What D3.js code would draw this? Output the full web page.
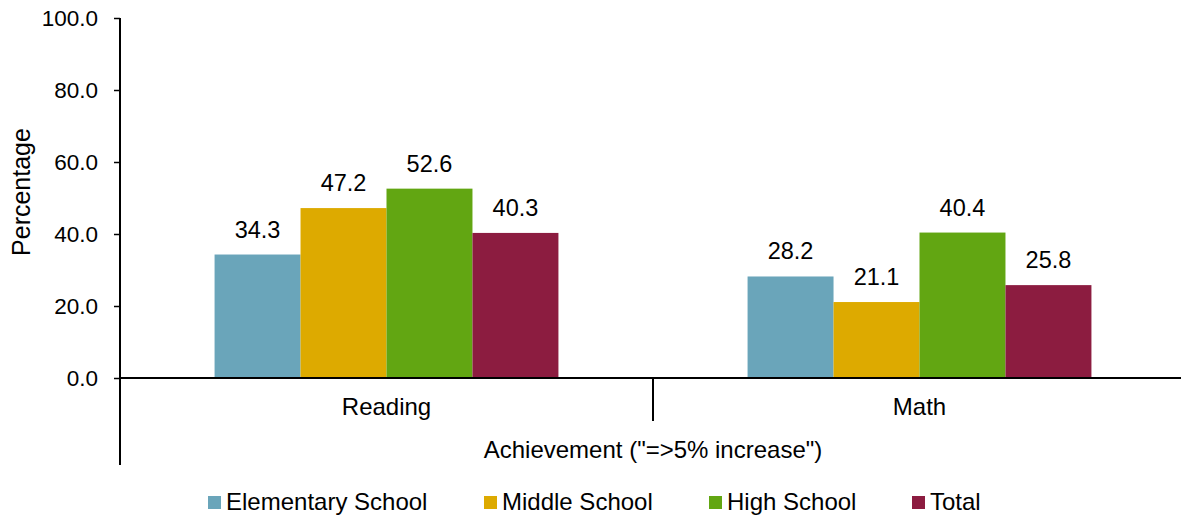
<!DOCTYPE html>
<html>
<head>
<meta charset="utf-8">
<script src="https://cdn.jsdelivr.net/npm/d3@7"></script>
<style>
  html, body { margin: 0; padding: 0; background: #fff; }
  svg { display: block; }
  text { font-family: "Liberation Sans", Arial, sans-serif; fill: #000; }
</style>
</head>
<body>
<svg id="chart" width="1181" height="516"></svg>
<script>
const categories = ["Reading", "Math"];
const seriesNames = ["Elementary School", "Middle School", "High School", "Total"];
const elementary = [34.3, 28.2];
const middle = [47.2, 21.1];
const high = [52.6, 40.4];
const total = [40.3, 25.8];
const seriesColors = ["#6AA5BA", "#DDAA00", "#62A612", "#8C1C40"];
const yTicks = [0, 20, 40, 60, 80, 100];
const xTitle = "Achievement (\"=>5% increase\")";
const yTitle = "Percentage";

const seriesValues = [elementary, middle, high, total];

const svg = d3.select("#chart");
const plotLeft = 120, plotRight = 1186, plotTop = 18, plotBottom = 378;

const x0 = d3.scaleBand().domain(categories).range([plotLeft, plotRight]).paddingInner(0).paddingOuter(0);
const x1 = d3.scaleBand().domain(seriesNames).range([0, x0.bandwidth()]).paddingInner(0).paddingOuter(1.1);
const y = d3.scaleLinear().domain([0, 100]).range([plotBottom, plotTop]);

// y axis
const yAxis = d3.axisLeft(y).tickValues(yTicks).tickFormat(d3.format(".1f")).tickSize(6).tickPadding(16);
const gy = svg.append("g").attr("transform", `translate(${plotLeft},0)`).call(yAxis);
gy.select(".domain").remove();
gy.selectAll(".tick line").attr("stroke", "#000").attr("stroke-width", 1.5);
gy.selectAll(".tick text").attr("font-size", 22.5).attr("font-family", "Liberation Sans, Arial, sans-serif").attr("fill", "#000");

// bars
const groups = svg.append("g").selectAll("g").data(categories).join("g")
  .attr("transform", d => `translate(${x0(d)},0)`);
groups.selectAll("rect")
  .data((c, ci) => seriesNames.map((s, si) => ({ s, si, v: seriesValues[si][ci] })))
  .join("rect")
  .attr("x", d => x1(d.s))
  .attr("width", x1.bandwidth())
  .attr("y", d => y(d.v))
  .attr("height", d => y(0) - y(d.v))
  .attr("fill", d => seriesColors[d.si]);
groups.selectAll("text.val")
  .data((c, ci) => seriesNames.map((s, si) => ({ s, si, v: seriesValues[si][ci] })))
  .join("text")
  .attr("class", "val")
  .attr("x", d => x1(d.s) + x1.bandwidth() / 2)
  .attr("y", d => y(d.v) - 17)
  .attr("text-anchor", "middle")
  .attr("font-size", 23.5)
  .text(d => d3.format(".1f")(d.v));

// axis lines
svg.append("line").attr("x1", plotLeft).attr("x2", 1181).attr("y1", y(0)).attr("y2", y(0))
  .attr("stroke", "#000").attr("stroke-width", 2);
svg.append("line").attr("x1", plotLeft).attr("x2", plotLeft).attr("y1", plotTop).attr("y2", 465)
  .attr("stroke", "#000").attr("stroke-width", 2);
// category separator
categories.slice(1).forEach(c => {
  svg.append("line").attr("x1", x0(c)).attr("x2", x0(c)).attr("y1", y(0)).attr("y2", 421)
    .attr("stroke", "#000").attr("stroke-width", 2);
});

// category labels
svg.append("g").selectAll("text").data(categories).join("text")
  .attr("x", d => x0(d) + x0.bandwidth() / 2)
  .attr("y", 415)
  .attr("text-anchor", "middle")
  .attr("font-size", 24)
  .text(d => d);

// x title
svg.append("text").attr("x", x0(categories[1])).attr("y", 458)
  .attr("text-anchor", "middle").attr("font-size", 24).text(xTitle);

// y title
svg.append("text").attr("transform", "translate(30,192) rotate(-90)")
  .attr("text-anchor", "middle").attr("font-size", 25).text(yTitle);

// legend
const legendX = [208, 484, 709, 912];
const lg = svg.append("g").selectAll("g").data(seriesNames).join("g")
  .attr("transform", (d, i) => `translate(${legendX[i]},496)`);
lg.append("rect").attr("width", 13).attr("height", 13).attr("fill", (d, i) => seriesColors[i]);
lg.append("text").attr("x", 18).attr("y", 13.5).attr("font-size", 24).text(d => d);
</script>
</body>
</html>
